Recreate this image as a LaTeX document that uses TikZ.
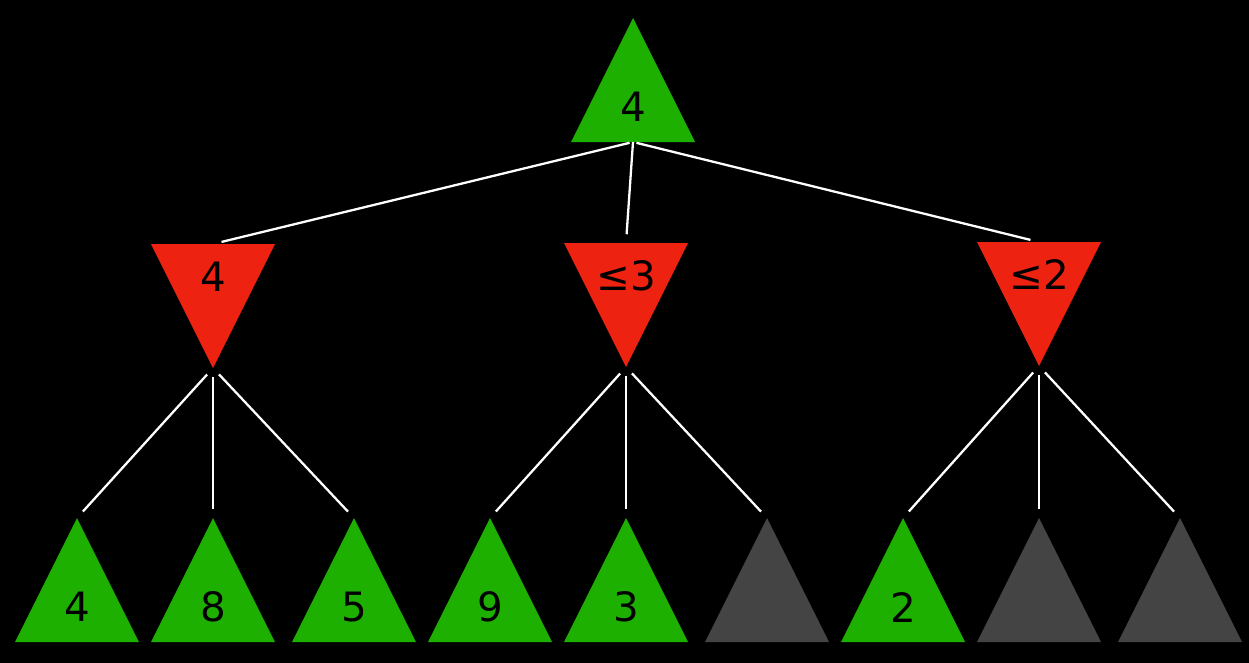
\documentclass[tikz,border=0pt]{standalone}
\usepackage{fontspec}
\setmainfont{DejaVu Sans}
\definecolor{maxgreen}{HTML}{1EB000}
\definecolor{minred}{HTML}{EE2211}
\definecolor{prunegray}{HTML}{444444}
\tikzset{
  edge/.style={white, line width=1.3pt, shorten <=5pt, shorten >=5pt},
  val/.style={text=black, font=\fontsize{23}{28}\selectfont}
}
% #1 name, #2 (x), #3 (y of apex), #4 colour, #5 label
\newcommand\upnode[5]{
  \fill [#4] (#2, #3) -- (#2-62, #3+124) -- (#2+62, #3+124) -- cycle;
  \coordinate (#1-top) at (#2, #3);
  \coordinate (#1-bot) at (#2, #3+124);
  \node [val] (#1) at (#2, #3+89) {#5};
}
% #1 name, #2 (x), #3 (y of base), #4 colour, #5 label
\newcommand\downnode[5]{
  \fill [#4] (#2-62, #3) -- (#2+62, #3) -- (#2, #3+124) -- cycle;
  \coordinate (#1-top) at (#2, #3);
  \coordinate (#1-bot) at (#2, #3+124);
  \node [val] (#1) at (#2, #3+33) {#5};
}

\begin{document}
\begin{tikzpicture}[x=0.02cm, y=-0.02cm]
  \fill [black] (0, 0) rectangle (1249, 663);

  \upnode{root}{633}{18}{maxgreen}{4}

  \downnode{ma}{213}{244}{minred}{4}
  \downnode{mb}{626}{243}{minred}{≤3}
  \downnode{mc}{1039}{242}{minred}{≤2}

  \upnode{la}{77}{518}{maxgreen}{4}
  \upnode{lb}{213}{518}{maxgreen}{8}
  \upnode{lc}{354}{518}{maxgreen}{5}
  \upnode{ld}{490}{518}{maxgreen}{9}
  \upnode{le}{626}{518}{maxgreen}{3}
  \upnode{lf}{767}{518}{prunegray}{}
  \upnode{lg}{903}{518}{maxgreen}{2}
  \upnode{lh}{1039}{518}{prunegray}{}
  \upnode{li}{1180}{518}{prunegray}{}

  \draw [edge, shorten <=2pt] (root-bot) -- (ma-top);
  \draw [edge, shorten <=0pt] (root-bot) -- (mb-top);
  \draw [edge, shorten <=2pt] (root-bot) -- (mc-top);

  \draw [edge] (ma-bot) -- (la-top);
  \draw [edge] (ma-bot) -- (lb-top);
  \draw [edge] (ma-bot) -- (lc-top);
  \draw [edge] (mb-bot) -- (ld-top);
  \draw [edge] (mb-bot) -- (le-top);
  \draw [edge] (mb-bot) -- (lf-top);
  \draw [edge] (mc-bot) -- (lg-top);
  \draw [edge] (mc-bot) -- (lh-top);
  \draw [edge] (mc-bot) -- (li-top);
\end{tikzpicture}
\end{document}
